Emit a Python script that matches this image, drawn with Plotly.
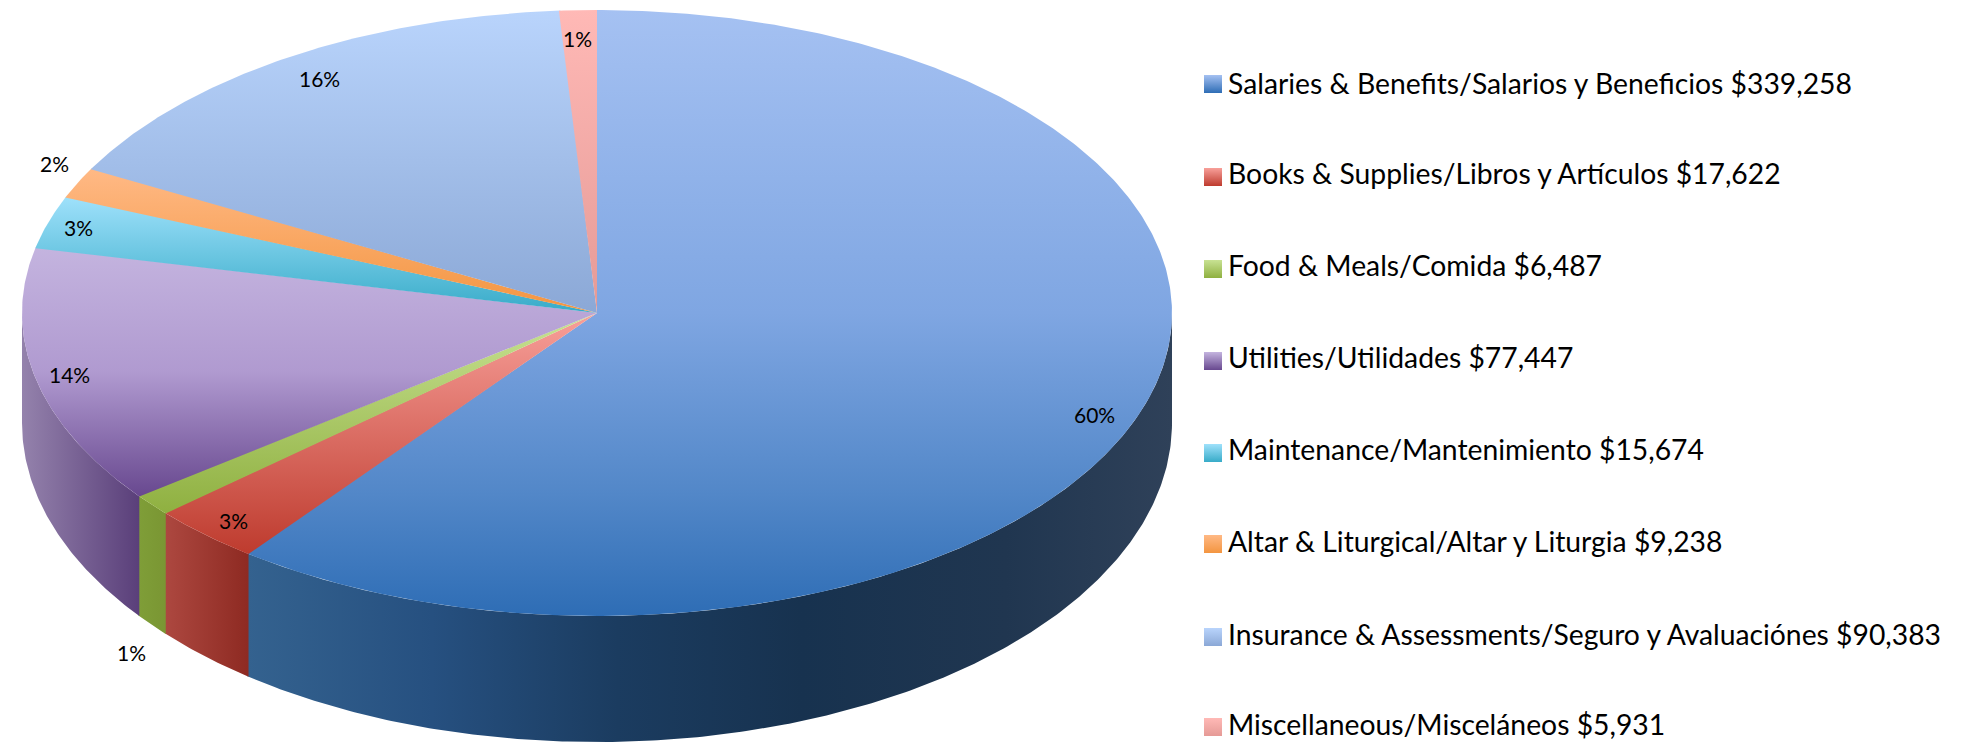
import numpy as np
import plotly.graph_objects as go

categories = ["Salaries & Benefits/Salarios y Beneficios", "Books & Supplies/Libros y Artículos",
              "Food & Meals/Comida", "Utilities/Utilidades", "Maintenance/Mantenimiento",
              "Altar & Liturgical/Altar y Liturgia", "Insurance & Assessments/Seguro y Avaluaciónes",
              "Miscellaneous/Misceláneos"]
values = [339258, 17622, 6487, 77447, 15674, 9238, 90383, 5931]

top_scales = [
    [[0, "#A5C1F2"], [0.5, "#7FA6E2"], [0.8, "#5287C8"], [1, "#2E6DB5"]],
    [[0, "#F8A09A"], [1, "#BE3B2E"]],
    [[0, "#C8E293"], [1, "#8FB040"]],
    [[0, "#C4B4DF"], [0.5, "#B09AD0"], [1, "#68488F"]],
    [[0, "#9FE1FB"], [1, "#37ABC8"]],
    [[0, "#FFB985"], [1, "#F39540"]],
    [[0, "#B9D4FC"], [1, "#8BA8D6"]],
    [[0, "#FFB9B6"], [1, "#E59A96"]],
]
rim_scales = [
    [[0, "#34628F"], [0.2, "#265080"], [0.4, "#1B3C60"], [0.6, "#17324F"], [0.82, "#203650"], [1, "#2F4159"]],
    [[0, "#AD4840"], [1, "#8E2A22"]],
    [[0, "#7F9E38"], [1, "#7A9633"]],
    [[0, "#9482AC"], [1, "#5A3F7A"]],
]
swatch_light = ["#A5C1F2", "#F8A09A", "#C8E293", "#C4B4DF", "#9FE1FB", "#FFB985", "#B9D4FC", "#FFB9B6"]
swatch_dark = ["#2E6DB5", "#BE3B2E", "#8FB040", "#68488F", "#37ABC8", "#F39540", "#8BA8D6", "#E59A96"]

label_x = [1094, 233, 131, 69, 78, 54, 319, 577]
label_y = [414, 520, 652, 374, 227, 163, 78, 38]
swatch_y = [84, 177, 269, 361, 453, 544, 637, 727]
legend_y = [83, 173, 265, 357, 449, 541, 634, 724]

W, H = 1961, 743
CX, CY, RX, RY = 597, 313, 575, 303
CY2, RY2 = 423, 319
SEAM = 0.15  # degrees each slice runs under the next one, so no white hairline shows


def arc(a0, a1, cy, ry):
    t = np.linspace(a0, a1, max(int((a1 - a0) * 2) + 2, 3))
    r = np.radians(t)
    return CX + RX * np.sin(r), cy - ry * np.cos(r)


def flipped(scale):
    return [[1 - p, c] for p, c in reversed(scale)]


fractions = np.array(values) / sum(values)
edges = np.concatenate([[0], np.cumsum(fractions) * 360])

fig = go.Figure()

# side wall: visible only on the front half of the disc
for i in range(len(values)):
    a0, a1 = max(edges[i], 90), min(edges[i + 1], 270)
    if a1 <= a0:
        continue
    if a1 < 270:
        a1 += SEAM
    xt, yt = arc(a0, a1, CY, RY)
    xb, yb = arc(a0, a1, CY2, RY2)
    fig.add_trace(go.Scatter(
        x=np.concatenate([xt, xb[::-1]]), y=np.concatenate([yt, yb[::-1]]),
        mode="lines", line=dict(width=0), fill="toself",
        fillgradient=dict(type="horizontal", colorscale=rim_scales[i]),
        hoverinfo="skip", showlegend=False))

# top face (the y axis runs downward, so the gradient is flipped to stay light on top)
for i in range(len(values)):
    end = edges[i + 1] + (SEAM if i < len(values) - 1 else 0)
    xa, ya = arc(edges[i], end, CY, RY)
    fig.add_trace(go.Scatter(
        x=np.concatenate([[CX], xa, [CX]]), y=np.concatenate([[CY], ya, [CY]]),
        mode="lines", line=dict(width=0), fill="toself",
        fillgradient=dict(type="vertical", colorscale=flipped(top_scales[i])),
        hoverinfo="skip", showlegend=False))

# legend swatches
for i in range(len(values)):
    fig.add_trace(go.Scatter(
        x=[1213], y=[swatch_y[i]], mode="markers",
        marker=dict(symbol="square", size=18, color=swatch_light[i], line=dict(width=0),
                    gradient=dict(type="vertical", color=swatch_dark[i])),
        hoverinfo="skip", showlegend=False))

for i, v in enumerate(values):
    fig.add_annotation(x=label_x[i], y=label_y[i], text=f"{round(fractions[i] * 100)}%", showarrow=False,
                       font=dict(family="Lato", size=21, color="#000000"))
    fig.add_annotation(x=1226, y=legend_y[i], xanchor="left", text=f"{categories[i]} ${v:,}", showarrow=False,
                       font=dict(family="Lato", size=28.3, color="#000000"))

fig.update_layout(
    width=W, height=H, margin=dict(l=0, r=0, t=0, b=0),
    paper_bgcolor="white", plot_bgcolor="white", showlegend=False,
    xaxis=dict(range=[0, W], visible=False, fixedrange=True),
    yaxis=dict(range=[H, 0], visible=False, fixedrange=True),
)
fig.write_html("out.html", config=dict(displayModeBar=False),
               post_script="document.body.style.margin='0';document.body.style.overflow='hidden';")
